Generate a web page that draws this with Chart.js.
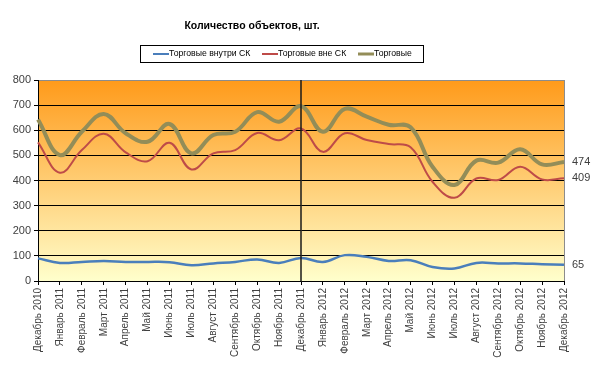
<!DOCTYPE html>
<html>
<head>
<meta charset="utf-8">
<script src="https://cdn.jsdelivr.net/npm/chart.js@4/dist/chart.umd.min.js"></script>
<style>
  html, body { margin: 0; padding: 0; background: #fff; }
  #wrap { width: 600px; height: 368px; }
</style>
</head>
<body>
<div id="wrap"><canvas id="objects-chart" width="600" height="368"></canvas></div>
<script>
var months = ["Декабрь 2010", "Январь 2011", "Февраль 2011", "Март 2011", "Апрель 2011", "Май 2011",
    "Июнь 2011", "Июль 2011", "Август 2011", "Сентябрь 2011", "Октябрь 2011", "Ноябрь 2011",
    "Декабрь 2011", "Январь 2012", "Февраль 2012", "Март 2012", "Апрель 2012", "Май 2012",
    "Июнь 2012", "Июль 2012", "Август 2012", "Сентябрь 2012", "Октябрь 2012", "Ноябрь 2012", "Декабрь 2012"];
var inside = [90, 72, 76, 80, 76, 76, 75, 63, 70, 76, 86, 72, 92, 76, 103, 96, 80, 83, 56, 50, 72, 70, 70, 67, 65];
var outside = [552, 431, 521, 586, 512, 477, 550, 444, 508, 521, 589, 560, 607, 514, 588, 561, 545, 532, 395, 331, 408, 402, 455, 404, 409];
var total = [643, 501, 594, 665, 588, 554, 625, 508, 581, 594, 672, 634, 696, 594, 685, 654, 622, 612, 455, 382, 479, 471, 524, 464, 474];
var yTicks = [0, 100, 200, 300, 400, 500, 600, 700, 800];
var markerMonth = "Декабрь 2011";
var chartTitle = "Количество объектов, шт.";

var font = "'Liberation Sans', Arial, sans-serif";

// background gradient, borders, divider, title, legend and end labels
var decor = {
    id: 'decor',
    beforeDraw: function(chart) {
        var c = chart.ctx, a = chart.chartArea;
        var g = c.createLinearGradient(0, a.top, 0, a.bottom);
        g.addColorStop(0, '#ff9a1a');
        g.addColorStop(1, '#ffffcc');
        c.save();
        c.fillStyle = g;
        c.fillRect(a.left, a.top, a.right - a.left, a.bottom - a.top);
        c.restore();
    },
    afterDatasetsDraw: function(chart) {
        var c = chart.ctx, a = chart.chartArea;
        c.save();
        // right border
        c.strokeStyle = '#8c8c8c';
        c.lineWidth = 1;
        c.beginPath();
        c.moveTo(a.right + 0.5, a.top);
        c.lineTo(a.right + 0.5, a.bottom);
        c.stroke();
        // divider at year change
        var x = chart.scales.x.getPixelForValue(months.indexOf(markerMonth));
        c.strokeStyle = '#1a1a1a';
        c.lineWidth = 1.5;
        c.beginPath();
        c.moveTo(x, a.top);
        c.lineTo(x, a.bottom);
        c.stroke();
        // last values
        c.fillStyle = '#404040';
        c.font = '11px ' + font;
        c.textBaseline = 'middle';
        c.textAlign = 'left';
        chart.data.datasets.forEach(function(ds, i) {
            var meta = chart.getDatasetMeta(i);
            var p = meta.data[meta.data.length - 1];
            c.fillText(String(ds.data[ds.data.length - 1]), a.right + 8, p.y);
        });
        // title
        c.fillStyle = '#000';
        c.font = 'bold 10.5px ' + font;
        c.textAlign = 'center';
        c.fillText(chartTitle, 252, 26);
        // legend
        c.strokeStyle = '#000';
        c.lineWidth = 1;
        c.strokeRect(140.5, 45.5, 283, 17);
        var lx = [153, 262, 358];
        c.font = '8.7px ' + font;
        c.textAlign = 'left';
        chart.data.datasets.forEach(function(ds, i) {
            c.strokeStyle = ds.borderColor;
            c.lineWidth = i === 2 ? 3 : 2;
            c.beginPath();
            c.moveTo(lx[i], 54);
            c.lineTo(lx[i] + 16, 54);
            c.stroke();
            c.fillStyle = '#000';
            c.fillText(ds.label, lx[i] + 16, 54);
        });
        c.restore();
    }
};

var ctx = document.getElementById("objects-chart").getContext('2d');
var myChart = new Chart(ctx, {
    type: 'line',
    data: {
        labels: months,
        datasets: [{
            label: 'Торговые внутри СК',
            data: inside,
            borderColor: '#4a7ebb',
            borderWidth: 2.5,
            pointRadius: 0,
            tension: 0.4
        }, {
            label: 'Торговые вне СК',
            data: outside,
            borderColor: '#be4b48',
            borderWidth: 2,
            pointRadius: 0,
            tension: 0.4
        }, {
            label: 'Торговые',
            data: total,
            borderColor: '#938d58',
            borderWidth: 4,
            pointRadius: 0,
            tension: 0.4
        }]
    },
    options: {
        responsive: false,
        animation: false,
        layout: { padding: { top: 80, right: 36, left: 0, bottom: 0 } },
        plugins: {
            legend: { display: false },
            title: { display: false },
            tooltip: { enabled: false }
        },
        scales: {
            x: {
                offset: false,
                afterFit: function(s) { s.height = 87; },
                grid: { drawOnChartArea: false, drawTicks: true, tickLength: 4, color: '#000' },
                border: { color: '#000', width: 1 },
                ticks: {
                    autoSkip: false,
                    minRotation: 90,
                    maxRotation: 90,
                    padding: 3,
                    color: '#404040',
                    font: { family: font, size: 10 }
                }
            },
            y: {
                min: 0,
                max: 800,
                afterFit: function(s) { s.width = 38; },
                afterBuildTicks: function(s) { s.ticks = yTicks.map(function(v) { return { value: v }; }); },
                grid: {
                    color: function(c) { return c.tick && c.tick.value === 800 ? '#8c8c8c' : '#000'; },
                    tickColor: '#000',
                    tickLength: 4
                },
                border: { color: '#000', width: 1 },
                ticks: {
                    padding: 3,
                    color: '#404040',
                    font: { family: font, size: 11 }
                }
            }
        }
    },
    plugins: [decor]
});
</script>
</body>
</html>
